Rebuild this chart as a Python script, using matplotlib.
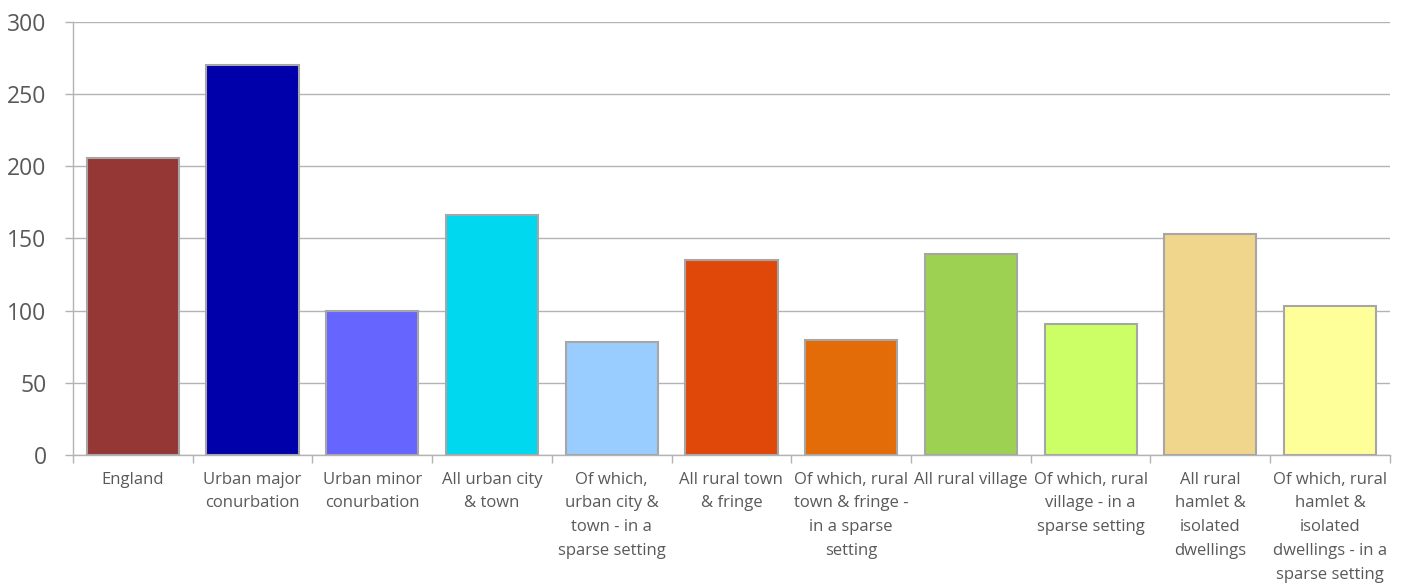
import numpy as np
import matplotlib.pyplot as plt

categories = ['England', 'Urban major\nconurbation', 'Urban minor\nconurbation',
              'All urban city\n& town', 'Of which,\nurban city &\ntown - in a\nsparse setting',
              'All rural town\n& fringe', 'Of which, rural\ntown & fringe -\nin a sparse\nsetting',
              'All rural village', 'Of which, rural\nvillage - in a\nsparse setting',
              'All rural\nhamlet &\nisolated\ndwellings',
              'Of which, rural\nhamlet &\nisolated\ndwellings - in a\nsparse setting']
values = [206, 270, 100, 166, 78, 135, 80, 139, 91, 153, 103]
colors = ['#953735', '#0000AA', '#6666FF', '#00D8F0', '#99CCFF', '#E0480A',
          '#E36C09', '#9DD152', '#CCFF66', '#F0D58C', '#FFFF99']

plt.rcParams['font.family'] = ['Open Sans', 'DejaVu Sans']
fig = plt.figure(figsize=(14.02, 5.88), dpi=100)
ax = fig.add_axes([0.052, 0.2262, 0.9394, 0.7364])

x = np.arange(len(categories))
ax.bar(x, values, width=0.77, color=colors, edgecolor='#a6a6a6', linewidth=1.5, zorder=3)

ax.set_xlim(-0.5, len(categories) - 0.5)
ax.set_ylim(0, 300)
ax.set_yticks(range(0, 301, 50))
ax.yaxis.grid(True, color='#b3b3b3', linewidth=1, zorder=0)
ax.tick_params(axis='y', labelsize=16.5, colors='#b3b3b3', labelcolor='#595959',
               length=6, width=1, pad=13)

ax.set_xticks(x)
ax.set_xticklabels(categories, fontsize=12, color='#595959', linespacing=1.65)
ax.tick_params(axis='x', length=0, pad=12)
ax.set_xticks(np.arange(-0.5, len(categories)), minor=True)
ax.tick_params(axis='x', which='minor', length=6, width=1, colors='#b3b3b3')

for side in ['top', 'right']:
    ax.spines[side].set_visible(False)
for side in ['left', 'bottom']:
    ax.spines[side].set_color('#b3b3b3')
    ax.spines[side].set_linewidth(1)

fig.savefig('out.png', dpi=100)
